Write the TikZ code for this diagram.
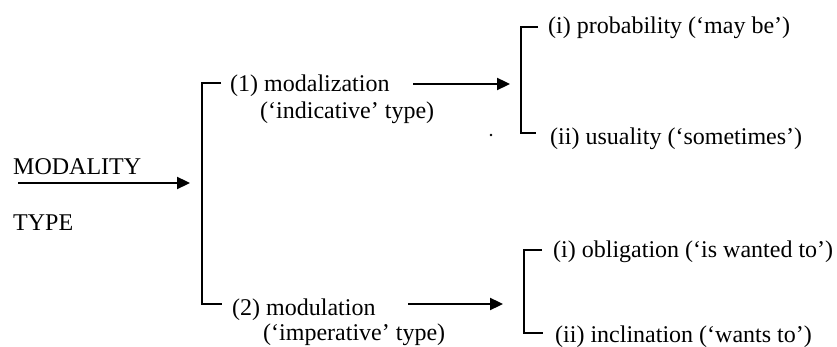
\documentclass[tikz,border=0pt]{standalone}
\usepackage{fontspec}
\setmainfont{Liberation Serif}
\usetikzlibrary{arrows.meta}
\begin{document}
\begin{tikzpicture}[x=1pt,y=-1pt,
  lbl/.style={anchor=base west,inner sep=0pt,font=\fontsize{24}{28}\selectfont},
  bracket/.style={line width=2.8pt,line cap=butt,line join=miter},
  feed/.style={line width=2.3pt,-{Triangle[length=13pt,width=12pt]}}]
\useasboundingbox (0,0) rectangle (837,347);

% entry label
\node[lbl] (modality) at (13,175) {MODALITY};
\node[lbl] (type) at (13,230) {TYPE};
\coordinate (mstart) at (18,183);
\coordinate (mend) at (190,183);

% first-level system
\coordinate (b1top) at (202,83);
\coordinate (b1bot) at (202,304);
\coordinate (b1topend) at (221,83);
\coordinate (b1botend) at (222,304);
\node[lbl] (modal) at (230,92) {(1) modalization};
\node[lbl] (modalsub) at (260,119) {(‘indicative’ type)};
\node[lbl] (modul) at (232,315) {(2) modulation};
\node[lbl] (modulsub) at (263,340) {(‘imperative’ type)};

% second-level systems
\coordinate (a1start) at (413,84);
\coordinate (a1end) at (510,84);
\coordinate (a2start) at (408,304);
\coordinate (a2end) at (503,304);
\coordinate (b2top) at (521,27);
\coordinate (b2bot) at (521,133);
\coordinate (b2topend) at (538,27);
\coordinate (b2botend) at (536,133);
\coordinate (b3top) at (524,250);
\coordinate (b3bot) at (524,333);
\coordinate (b3topend) at (542,250);
\coordinate (b3botend) at (543,333);

\node[lbl] (prob) at (548,34) {(i) probability (‘may be’)};
\node[lbl] (usual) at (550,145) {(ii) usuality (‘sometimes’)};
\node[lbl] (oblig) at (553,257) {(i) obligation (‘is wanted to’)};
\node[lbl] (incl) at (555,342) {(ii) inclination (‘wants to’)};

% entry arrow
\draw[feed] (mstart) -- (mend);
% brackets
\draw[bracket] (b1topend) -- (b1top) -- (b1bot) -- (b1botend);
\draw[bracket] (b2topend) -- (b2top) -- (b2bot) -- (b2botend);
\draw[bracket] (b3topend) -- (b3top) -- (b3bot) -- (b3botend);
% arrows into the second-level brackets
\draw[feed] (a1start) -- (a1end);
\draw[feed] (a2start) -- (a2end);

% small stray mark
\fill (491,135) circle (1.3pt);
\end{tikzpicture}
\end{document}
